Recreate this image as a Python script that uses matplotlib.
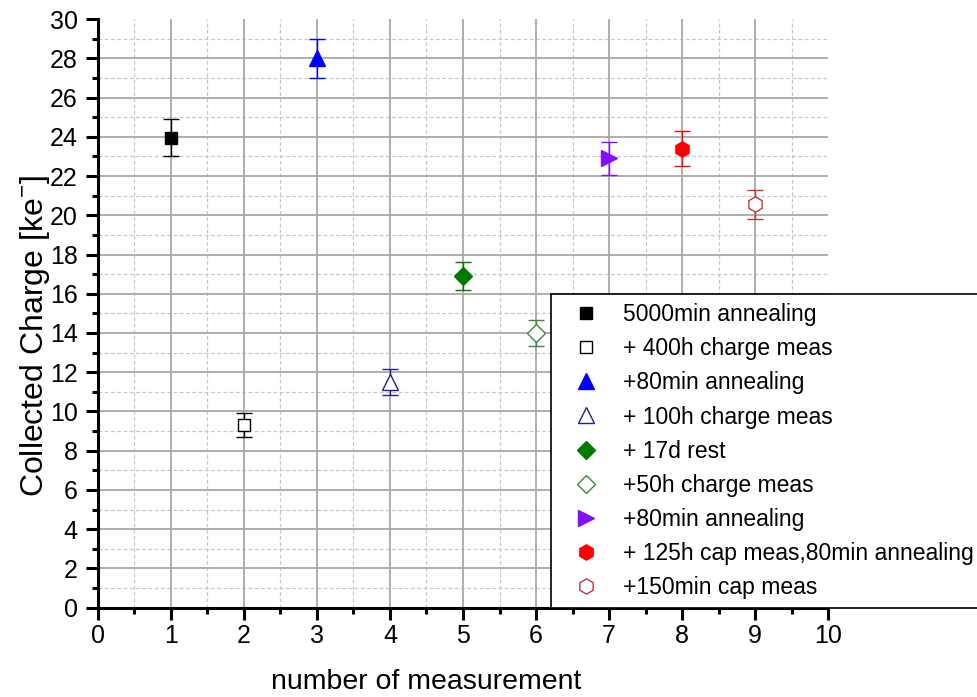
import numpy as np
import matplotlib
matplotlib.use('Agg')
from matplotlib import pyplot as plt
from matplotlib.ticker import MultipleLocator

plt.rcParams['font.family'] = ['Liberation Sans', 'DejaVu Sans']
plt.rcParams['mathtext.fontset'] = 'custom'
plt.rcParams['mathtext.rm'] = 'Liberation Sans'

# measurement index, collected charge (ke-) and its error
measurement = [1, 2, 3, 4, 5, 6, 7, 8, 9]
charge = [23.95, 9.3, 28.0, 11.5, 16.9, 14.0, 22.9, 23.4, 20.55]
charge_err = [0.93, 0.62, 1.0, 0.68, 0.73, 0.64, 0.84, 0.87, 0.75]
labels = ['5000min annealing', '+ 400h charge meas', '+80min annealing',
          '+ 100h charge meas', '+ 17d rest', '+50h charge meas',
          '+80min annealing', '+ 125h cap meas,80min annealing',
          '+150min cap meas']

# marker, colour, filled, size
styles = [
    ('s', '#000000', True, 9),
    ('s', '#000000', False, 9),
    ('^', '#0000ff', True, 11),
    ('^', '#202090', False, 11),
    ('D', '#007a00', True, 9),
    ('D', '#3a8a3a', False, 9),
    ('>', '#8010ff', True, 11),
    ('h', '#ff0000', True, 11),
    ('h', '#c03838', False, 11),
]

fig = plt.figure(figsize=(9.77, 6.97), dpi=100)
ax = fig.add_axes([0.1003, 0.1281, 0.7472, 0.8446])

for x, y, e, lab, (mk, col, filled, ms) in zip(measurement, charge, charge_err, labels, styles):
    ax.errorbar(x, y, yerr=e, fmt=mk, color=col, ecolor=col, elinewidth=1.0,
                capsize=6, capthick=1.0, markersize=ms,
                markerfacecolor=col if filled else 'white',
                markeredgecolor=col, markeredgewidth=1.0, label=lab, zorder=3)

ax.set_xlim(0, 10)
ax.set_ylim(0, 30)
ax.xaxis.set_major_locator(MultipleLocator(1))
ax.xaxis.set_minor_locator(MultipleLocator(0.5))
ax.yaxis.set_major_locator(MultipleLocator(2))
ax.yaxis.set_minor_locator(MultipleLocator(1))

# grid stops short of the far edges (no line at x=10 / y=30)
minor_x = np.arange(0.5, 10, 1.0)
major_x = np.arange(1, 10, 1.0)
minor_y = np.arange(1, 30, 2.0)
major_y = np.arange(2, 30, 2.0)
ax.vlines(minor_x, 0, 30, colors='#c8c8c8', linewidth=0.9, linestyles=(0, (3, 2)), zorder=0)
ax.hlines(minor_y, 0, 10, colors='#c8c8c8', linewidth=0.9, linestyles=(0, (3, 2)), zorder=0)
ax.vlines(major_x, 0, 30, colors='#a8a8a8', linewidth=1.3, zorder=1)
ax.hlines(major_y, 0, 10, colors='#a8a8a8', linewidth=1.3, zorder=1)

for side in ['top', 'right']:
    ax.spines[side].set_visible(False)
for side in ['left', 'bottom']:
    ax.spines[side].set_linewidth(2.2)
ax.tick_params(which='major', direction='out', length=8.5, width=2.2, labelsize=18)
ax.tick_params(which='minor', direction='out', length=4, width=2.2)
ax.tick_params(axis='x', which='major', pad=3.5)
ax.tick_params(axis='y', which='major', pad=6)

fig.text(426.5 / 977, 1 - 689 / 697, 'number of measurement', fontsize=20.5,
         ha='center', va='baseline')
fig.text(35 / 977, 1 - 336 / 697, 'Collected Charge [ke$^{-}$]', fontsize=23,
         ha='center', va='center', rotation=90)

# legend box runs past the right edge of the figure
handles, leg_labels = ax.get_legend_handles_labels()
handles = [h[0] for h in handles]
leg = fig.legend(handles, leg_labels, loc='upper left', mode='expand',
                 bbox_to_anchor=(551 / 977, 1 - 294 / 697, 445 / 977, 0), fontsize=16.5,
                 frameon=True, fancybox=False, framealpha=1, edgecolor='black',
                 borderpad=0.4, labelspacing=0.485, handlelength=2.25,
                 handletextpad=0.5, borderaxespad=0, markerscale=1.0)
leg.get_frame().set_linewidth(1.2)

fig.savefig('out.png', dpi=100)
